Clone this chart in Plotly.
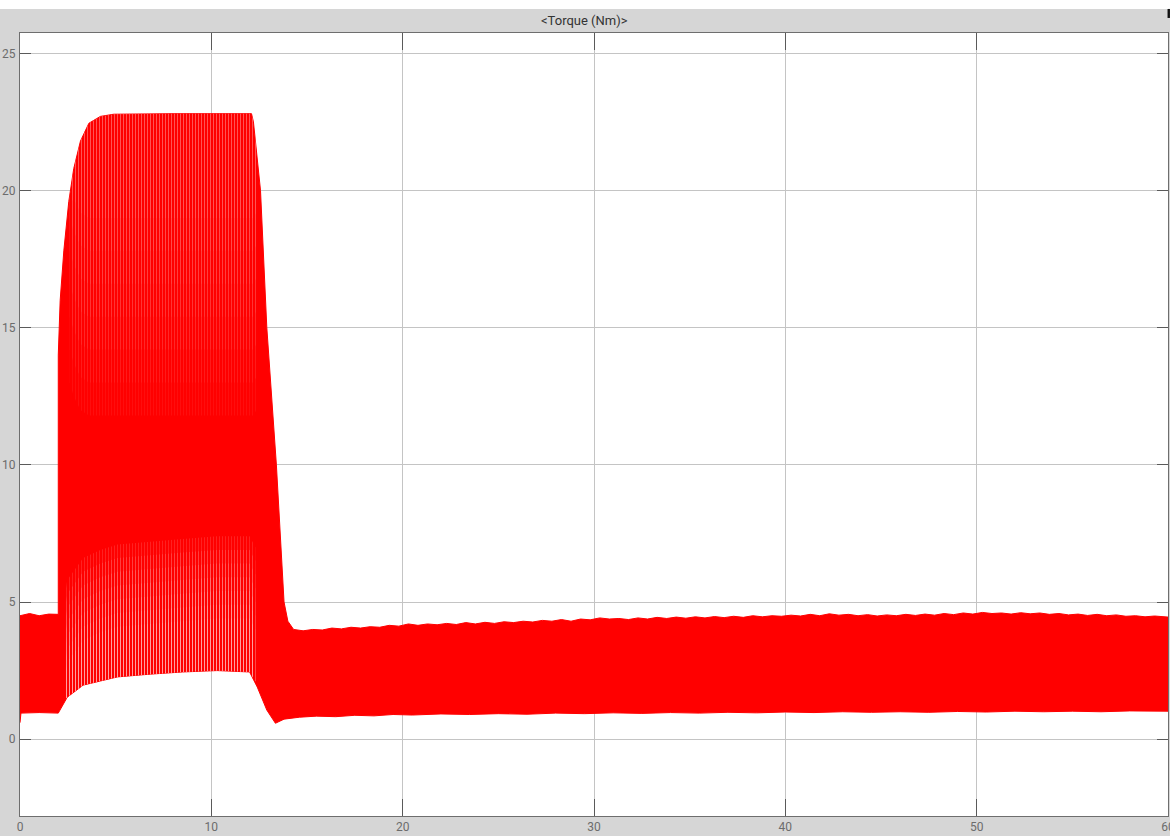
import plotly.graph_objects as go

# Torque envelope (Nm) of the scope trace: upper and lower bounds over time (s)
t_upper = [0.0, 0.5, 1.0, 1.5, 2.0, 2.0, 2.1, 2.29, 2.55, 2.81, 3.16, 3.6, 4.2, 4.9,
           8.0, 12.1, 12.2, 12.35, 12.57, 12.9, 13.4, 13.8, 14.0, 14.3, 14.8, 15.3,
           15.8, 16.3, 16.8, 17.3, 17.8, 18.3, 18.8, 19.3, 19.8, 20.3, 20.8, 21.3,
           21.8, 22.3, 22.8, 23.3, 23.8, 24.3, 24.8, 25.3, 25.8, 26.3, 26.8, 27.3,
           27.8, 28.3, 28.8, 29.3, 29.8, 30.3, 30.8, 31.3, 31.8, 32.3, 32.8, 33.3,
           33.8, 34.3, 34.8, 35.3, 35.8, 36.3, 36.8, 37.3, 37.8, 38.3, 38.8, 39.3,
           39.8, 40.3, 40.8, 41.3, 41.8, 42.3, 42.8, 43.3, 43.8, 44.3, 44.8, 45.3,
           45.8, 46.3, 46.8, 47.3, 47.8, 48.3, 48.8, 49.3, 49.8, 50.3, 50.8, 51.3,
           51.8, 52.3, 52.8, 53.3, 53.8, 54.3, 54.8, 55.3, 55.8, 56.3, 56.8, 57.3,
           57.8, 58.3, 58.8, 59.3, 60.0]
torque_upper = [4.5, 4.58, 4.5, 4.56, 4.55, 14.0, 16.0, 17.8, 19.6, 20.8, 21.8, 22.45,
                22.7, 22.78, 22.8, 22.8, 22.5, 21.5, 20.0, 15.0, 10.0, 5.0, 4.3, 4.0,
                3.95, 4.0, 3.98, 4.05, 4.02, 4.08, 4.05, 4.1, 4.08, 4.15, 4.12, 4.2,
                4.15, 4.2, 4.17, 4.22, 4.18, 4.25, 4.2, 4.26, 4.22, 4.28, 4.25, 4.3,
                4.27, 4.33, 4.3, 4.36, 4.3, 4.38, 4.35, 4.42, 4.38, 4.4, 4.36, 4.42,
                4.38, 4.44, 4.4, 4.45, 4.41, 4.46, 4.42, 4.47, 4.43, 4.48, 4.44, 4.5,
                4.46, 4.5, 4.48, 4.52, 4.49, 4.55, 4.5, 4.57, 4.52, 4.55, 4.5, 4.54,
                4.49, 4.53, 4.5, 4.55, 4.51, 4.56, 4.52, 4.58, 4.54, 4.6, 4.56, 4.62,
                4.58, 4.6, 4.56, 4.61, 4.57, 4.6, 4.55, 4.58, 4.53, 4.56, 4.51, 4.55,
                4.5, 4.53, 4.48, 4.5, 4.46, 4.49, 4.45]

t_lower = [0.0, 0.05, 1.0, 2.0, 2.47, 3.3, 4.2, 5.1, 6.8, 8.5, 10.3, 12.0, 12.4, 12.9,
           13.35, 13.8, 14.6, 15.5, 16.5, 17.5, 18.5, 19.5, 20.5, 22.0, 23.5, 25.0,
           26.5, 28.0, 29.5, 31.0, 32.5, 34.0, 35.5, 37.0, 38.5, 40.0, 41.5, 43.0,
           44.5, 46.0, 47.5, 49.0, 50.5, 52.0, 53.5, 55.0, 56.5, 58.0, 60.0]
torque_lower = [0.6, 0.95, 0.97, 0.95, 1.53, 1.97, 2.12, 2.27, 2.37, 2.45, 2.5, 2.45,
                1.9, 1.06, 0.58, 0.73, 0.8, 0.84, 0.82, 0.87, 0.85, 0.9, 0.88, 0.92,
                0.9, 0.93, 0.91, 0.95, 0.93, 0.96, 0.94, 0.97, 0.95, 0.98, 0.96, 0.99,
                0.97, 1.0, 0.98, 1.0, 0.98, 1.01, 0.99, 1.02, 1.0, 1.02, 1.0, 1.03,
                1.02]

# Lower part of the swing where the oscillation leaves visible gaps:
# the gaps fade out towards this ceiling
t_low_stripes = [2.3, 2.47, 3.3, 4.2, 5.1, 6.8, 8.5, 10.3, 12.0, 12.3]
low_stripes_bottom = [1.4, 1.53, 1.97, 2.12, 2.27, 2.37, 2.45, 2.5, 2.45, 2.1]
low_stripes_ceiling = [5.0, 5.8, 6.6, 6.9, 7.1, 7.2, 7.3, 7.4, 7.4, 7.0]

# Upper part of the swing with fine gaps near the peak, fading out below this floor
t_high_stripes = [2.6, 2.81, 3.16, 3.6, 4.2, 4.9, 8.0, 12.1, 12.2, 12.35]
high_stripes_top = [19.8, 20.8, 21.8, 22.45, 22.7, 22.78, 22.8, 22.8, 22.5, 21.5]
high_stripes_floor = [13.0, 12.5, 12.0, 11.8, 11.8, 11.8, 11.8, 11.8, 11.8, 12.0]

x_ticks = [0, 10, 20, 30, 40, 50, 60]
y_ticks = [0, 5, 10, 15, 20, 25]

RED = "#ff0000"
FONT = "Liberation Sans Narrow, Roboto, Arial, sans-serif"

# Gap shading is built from stacked layers so it fades smoothly
LOW_STEPS = [0.0, 0.5, 1.0, 1.5, 2.0, 2.5, 3.0]     # lowered ceilings
HIGH_STEPS = [0.0, 1.2, 2.4, 3.6, 4.8, 6.0, 7.2]    # raised floors


def band(t, lo, hi):
    xs = list(t) + list(t)[::-1]
    ys = list(hi) + list(lo)[::-1]
    return xs, ys


def striped(xs, ys, alpha, size):
    return go.Scatter(
        x=xs, y=ys, mode="none", fill="toself",
        fillcolor="rgba(0,0,0,0)",
        fillpattern=dict(shape="|", fgcolor="#ffffff", fgopacity=alpha,
                         bgcolor="rgba(0,0,0,0)", size=size, solidity=0.35),
        hoverinfo="skip", showlegend=False)


fig = go.Figure()

bx = list(t_upper) + list(t_lower)[::-1]
by = list(torque_upper) + list(torque_lower)[::-1]
fig.add_trace(go.Scatter(x=bx, y=by, mode="lines", fill="toself",
                         fillcolor=RED, line=dict(color=RED, width=1),
                         hoverinfo="skip", showlegend=False))

for step in HIGH_STEPS:
    lo = [min(f + step, h - 0.3) for f, h in zip(high_stripes_floor, high_stripes_top)]
    hx, hy = band(t_high_stripes, lo, high_stripes_top)
    fig.add_trace(striped(hx, hy, 0.055, 3))

for step in LOW_STEPS:
    hi = [max(c - step, b + 0.3) for c, b in zip(low_stripes_ceiling, low_stripes_bottom)]
    lx, ly = band(t_low_stripes, low_stripes_bottom, hi)
    fig.add_trace(striped(lx, ly, 0.13, 3))

axis_common = dict(
    showgrid=True, gridcolor="#c4c4c4", gridwidth=1,
    showline=True, linecolor="#6e6e6e", linewidth=1, mirror="ticks",
    ticks="inside", tickcolor="#5a5a5a", tickwidth=1,
    zeroline=False, ticklabeloverflow="allow", automargin=False,
    tickfont=dict(family=FONT, size=12, color="#6c6c6c"),
)

fig.update_xaxes(range=[0, 60], tickvals=x_ticks, ticklen=17,
                 ticklabelstandoff=0, **axis_common)
fig.update_yaxes(range=[-2.8, 25.74], tickvals=y_ticks, ticklen=11,
                 ticklabelstandoff=1, **axis_common)

fig.update_layout(
    width=1170, height=836,
    margin=dict(l=20, r=2, t=33, b=20, autoexpand=False),
    paper_bgcolor="#d6d6d6",
    plot_bgcolor="#ffffff",
    showlegend=False,
    shapes=[
        dict(type="rect", xref="paper", yref="paper",
             x0=-0.02, x1=1.01, y0=1.0307, y1=1.05,
             fillcolor="#ffffff", line=dict(width=0), layer="below"),
        dict(type="rect", xref="paper", yref="paper",
             x0=0.9996, x1=1.0017, y0=1.0192, y1=1.0307,
             fillcolor="#111111", line=dict(width=0)),
    ],
    annotations=[
        dict(text="&lt;Torque (Nm)&gt;", xref="paper", yref="paper",
             x=0.492, y=1.0166, xanchor="center", yanchor="middle",
             showarrow=False,
             font=dict(family=FONT, size=13, color="#333333")),
    ],
)

fig.write_html("out.html")
